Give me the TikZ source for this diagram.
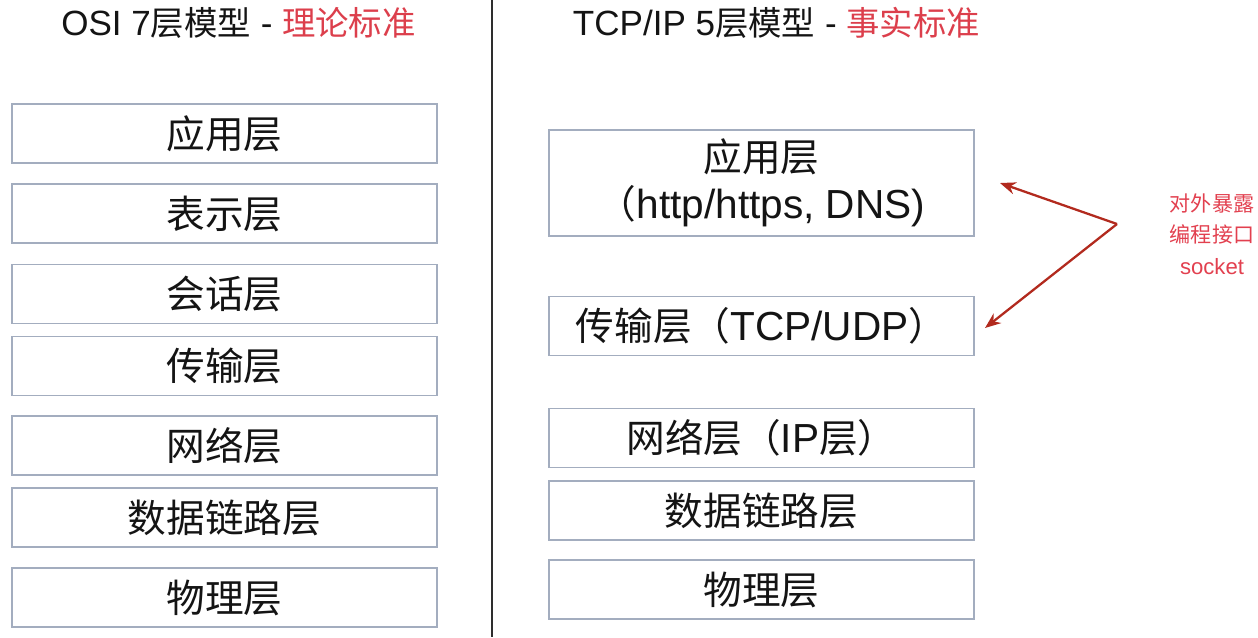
\documentclass[tikz,border=0pt]{standalone}
\usepackage{fontspec}
\setmainfont[Scale=1.05]{Liberation Sans}
\newfontfamily\cjk{Noto Sans CJK SC}
\usepackage{xcolor}
\usepackage{tikz}
\usetikzlibrary{arrows.meta}
\definecolor{boxGray}{HTML}{A3ADBF}
\definecolor{inkBlack}{HTML}{141414}
\definecolor{titleRed}{HTML}{DC3F4C}
\definecolor{arrowRed}{HTML}{B22A1E}
\definecolor{noteRed}{HTML}{E2404F}
\definecolor{ruleGray}{HTML}{2E2E2E}

\begin{document}
\begin{tikzpicture}[x=0.02cm,y=-0.02cm,
layerBox/.style={
draw=boxGray,
line width=1.1pt,
fill=white,
minimum width=8.5cm,
minimum height=1.18cm,
inner sep=0pt,
align=center,
text=inkBlack,
font=\fontsize{22}{27}\selectfont,
},
titleText/.style={
inner sep=0pt,
text=inkBlack,
font=\fontsize{19}{23}\selectfont,
},
socketArrow/.style={
draw=arrowRed,
line width=1.3pt,
-{Stealth[length=9pt,width=7pt]},
},
]
\useasboundingbox (0,0) rectangle (1258,637);

% titles
\node[titleText] (osiTitle) at (238.5,23) {OSI 7{\cjk 层模型} - \textcolor{titleRed}{\cjk 理论标准}};
\node[titleText] (tcpTitle) at (776.5,23) {TCP/IP 5{\cjk 层模型} - \textcolor{titleRed}{\cjk 事实标准}};

% divider
\coordinate (ruleTop) at (492,0);
\coordinate (ruleBottom) at (492,637);
\draw[ruleGray,line width=1.2pt] (ruleTop) -- (ruleBottom);

% OSI 7 layers
\node[layerBox] (osiApp) at (224.5,133.5) {\cjk 应用层};
\node[layerBox] (osiPres) at (224.5,213.5) {\cjk 表示层};
\node[layerBox] (osiSess) at (224.5,294) {\cjk 会话层};
\node[layerBox] (osiTrans) at (224.5,366) {\cjk 传输层};
\node[layerBox] (osiNet) at (224.5,445.5) {\cjk 网络层};
\node[layerBox] (osiLink) at (224.5,517.5) {\cjk 数据链路层};
\node[layerBox] (osiPhys) at (224.5,597.5) {\cjk 物理层};

% TCP/IP 5 layers
\node[layerBox,minimum height=2.12cm] (tcpApp) at (761.5,183) {{\cjk 应用层}\\{\cjk （}http/https, DNS)};
\node[layerBox] (tcpTrans) at (761.5,326) {{\cjk 传输层（}TCP/UDP{\cjk ）}};
\node[layerBox] (tcpNet) at (761.5,438) {{\cjk 网络层（}IP{\cjk 层）}};
\node[layerBox] (tcpLink) at (761.5,510.5) {\cjk 数据链路层};
\node[layerBox] (tcpPhys) at (761.5,589.5) {\cjk 物理层};

% socket note
\node[
inner sep=0pt,
align=center,
text=noteRed,
font=\fontsize{12}{18}\selectfont,
] (socketNote) at (1212,234) {{\cjk 对外暴露}\\{\cjk 编程接口}\\socket};
\coordinate (apex) at (1117,224);
\coordinate (appTip) at (1000,183);
\coordinate (transTip) at (985,328);
\draw[socketArrow] (apex) -- (appTip);
\draw[socketArrow] (apex) -- (transTip);
\end{tikzpicture}
\end{document}
